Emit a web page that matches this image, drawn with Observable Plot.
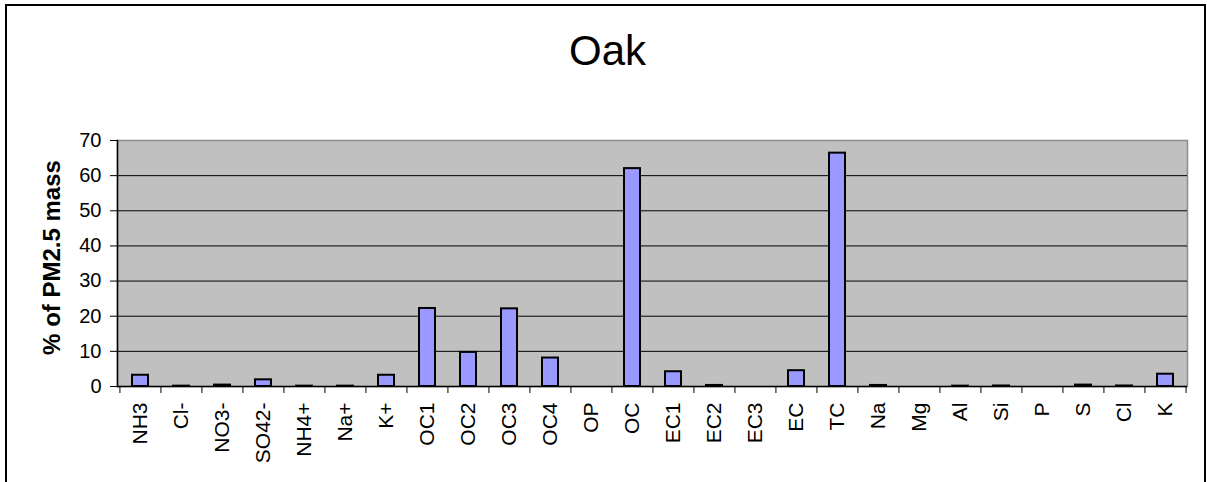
<!DOCTYPE html>
<html><head><meta charset="utf-8">
<script src="https://cdn.jsdelivr.net/npm/d3@7"></script>
<script src="https://cdn.jsdelivr.net/npm/@observablehq/plot@0.6"></script>
<style>
html,body{margin:0;padding:0;background:#fff;overflow:hidden;}
#wrap{position:relative;width:1207px;height:482px;}
#border{position:absolute;left:5px;top:4px;width:1201px;height:600px;border:2px solid #000;box-sizing:border-box;pointer-events:none;}
</style></head><body>
<div id="wrap"><div id="chart"></div><div id="border"></div></div>
<script>
const title = "Oak";
const yLabel = "% of PM2.5 mass";
const categories = ["NH3","Cl-","NO3-","SO42-","NH4+","Na+","K+","OC1","OC2","OC3","OC4","OP","OC","EC1","EC2","EC3","EC","TC","Na","Mg","Al","Si","P","S","Cl","K"];
const values = [3.2,0.1,0.4,1.9,0.1,0.1,3.2,22.2,9.7,22.1,8.1,0,62.0,4.2,0.3,0,4.5,66.4,0.3,0,0.1,0.15,0,0.4,0.15,3.5];
const yTicks = [0,10,20,30,40,50,60,70];
const yGrid = [10,20,30,40,50,60];

const data = categories.map((c, i) => ({cat: c, v: values[i]}));

const W = 1207, H = 482;
const mL = 117, mR = 20, mT = 140, mB = 96;
const step = (W - mL - mR) / categories.length;
const font = "'Liberation Sans', Arial, sans-serif";

const chart = Plot.plot({
  width: W, height: H,
  marginLeft: mL, marginRight: mR, marginTop: mT, marginBottom: mB,
  style: {fontFamily: font, fontSize: "20px", color: "#000", background: "transparent"},
  x: {domain: categories, paddingInner: 0.62, paddingOuter: 0.31, label: null, axis: null},
  y: {domain: [0, 70], label: null, axis: null},
  marks: [
    Plot.frame({fill: "#c0c0c0", stroke: "#8c8c8c", strokeWidth: 1.5}),
    Plot.ruleY(yGrid, {stroke: "#000", strokeWidth: 1}),
    Plot.barY(data.filter(d => d.v > 0), {x: "cat", y: "v", fill: "#9999ff", stroke: "#000", strokeWidth: 2}),
    Plot.ruleY([0], {stroke: "#000", strokeWidth: 1.5}),
    Plot.frame({anchor: "left", stroke: "#000", strokeWidth: 1.5}),
    // x ticks at category boundaries
    Plot.ruleX(categories, {x: d => d, y1: 0, y2: 0, dx: -step / 2, insetBottom: -7, stroke: "#000", strokeWidth: 1}),
    Plot.ruleX(categories.slice(-1), {x: d => d, y1: 0, y2: 0, dx: step / 2, insetBottom: -7, stroke: "#000", strokeWidth: 1}),
    // x tick labels
    Plot.text(categories, {x: d => d, frameAnchor: "bottom", rotate: -90, textAnchor: "end", lineAnchor: "middle", dy: 16, fontSize: 21, fontFamily: font, fill: "#000"}),
    // y ticks and labels
    Plot.ruleY(yTicks, {y: d => d, frameAnchor: "left", x1: null, x2: null, insetRight: 1070, insetLeft: -7, stroke: "#000", strokeWidth: 1}),
    Plot.text(yTicks, {y: d => d, frameAnchor: "left", textAnchor: "end", dx: -16, fontSize: 20, fontFamily: font, fill: "#000"}),
    Plot.text([yLabel], {frameAnchor: "left", textAnchor: "middle", dx: -65, dy: -6, rotate: -90, fontSize: 24, fontWeight: "bold", fontFamily: font}),
    Plot.text([title], {frameAnchor: "top", dx: -45, dy: -105, fontSize: 42, fontFamily: font})
  ]
});
document.getElementById("chart").appendChild(chart);
</script>
</body></html>
